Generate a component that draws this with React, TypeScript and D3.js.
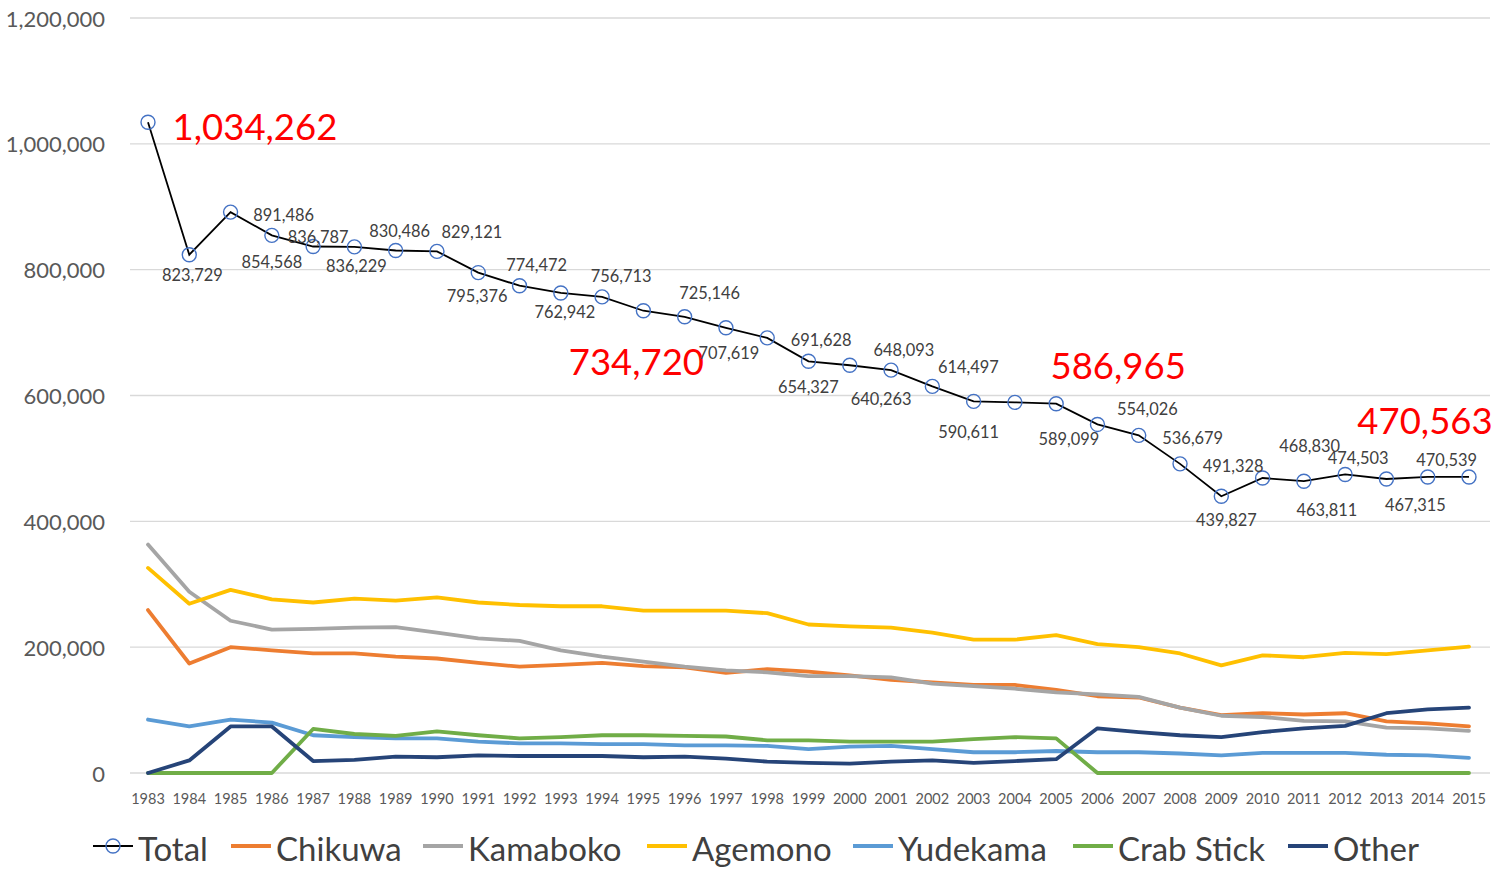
import React from "react";
import * as d3 from "d3";

const years = [1983,1984,1985,1986,1987,1988,1989,1990,1991,1992,1993,1994,1995,1996,1997,1998,1999,2000,2001,2002,2003,2004,2005,2006,2007,2008,2009,2010,2011,2012,2013,2014,2015];

const total = [1034262,823729,891486,854568,836787,836229,830486,829121,795376,774472,762942,756713,734720,725146,707619,691628,654327,648093,640263,614497,590611,589099,586965,554026,536679,491328,439827,468830,463811,474503,467315,470539,470563];

const chikuwa = [259000,174000,200000,195000,190000,190000,185000,182000,175000,169000,172000,175000,170000,168000,159000,165000,161000,155000,148000,144000,140000,140000,132000,122000,120000,104000,92000,95000,93000,95000,82000,79000,74000];
const kamaboko = [363000,288000,242000,228000,229000,231000,232000,223000,214000,210000,195000,185000,177000,169000,163000,160000,154000,154000,152000,142000,138000,134000,128000,125000,121000,104000,91000,89000,83000,82000,72000,71000,67000];
const agemono = [326000,269000,291000,276000,271000,277000,274000,279000,271000,267000,265000,265000,258000,258000,258000,254000,236000,233000,231000,223000,212000,212000,219000,205000,200000,190000,171000,187000,184000,191000,189000,195000,201000];
const yudekama = [85000,74000,85000,80000,60000,57000,55000,55000,50000,47000,47000,46000,46000,44000,44000,43000,38000,42000,43000,38000,33000,33000,35000,33000,33000,31000,28000,32000,32000,32000,29000,28000,24000];
const crabStick = [0,0,0,0,70000,62000,59000,66000,60000,55000,57000,60000,60000,59000,58000,52000,52000,50000,50000,50000,54000,57000,55000,0,0,0,0,0,0,0,0,0,0];
const other = [0,20000,74000,74000,19000,21000,26000,25000,28000,27000,27000,27000,25000,26000,23000,18000,16000,15000,18000,20000,16000,19000,22000,71000,65000,60000,57000,65000,71000,75000,95000,101000,104000];

const yTicks = [0,200000,400000,600000,800000,1000000,1200000];
const highlightYears = [1983,1995,2005,2015];

const seriesNames = ["Chikuwa","Kamaboko","Agemono","Yudekama","Crab Stick","Other"];
const seriesValues = [chikuwa,kamaboko,agemono,yudekama,crabStick,other];
const seriesColors = ["#ED7D31","#A5A5A5","#FFC000","#5B9BD5","#70AD47","#264478"];

// label offsets (dx, dy) from each Total point, layout only
const labelOffsets: [number, number][] = [
  [107,4],[3,20],[53,2],[0,26],[5,-10],[2,19],[4,-20],[35,-20],[-1,23],[17,-21],
  [4,19],[19,-21],[-7,50],[25,-24],[3,25],[54,2],[0,25],[54,-16],[-10,28],[36,-20],
  [-5,30],[54,36],[62,-39],[50,-16],[54,2],[53,2],[5,23],[47,-33],[23,28],[13,-17],
  [29,26],[19,-17],[-44,-57]
];

const legendItems = ["Total", ...seriesNames];
const legendColors = ["#000000", ...seriesColors];
const legendX = [93,231,423,647,853,1073,1288];

const FONT = "Lato, 'Open Sans', sans-serif";

export default function App() {
  const W = 1504, H = 893;
  const x = d3.scalePoint<number>().domain(years).range([148, 1469]);
  const y = d3.scaleLinear().domain([0, 1200000]).range([773, 18]);
  const fmt = d3.format(",");
  const line = d3.line<number>().x((_, i) => x(years[i]) as number).y(d => y(d));

  return (
    <svg width={W} height={H} style={{ position: "absolute", left: 0, top: 0, display: "block", background: "#fff" }} fontFamily={FONT}>
      {yTicks.map(t => (
        <g key={t}>
          <line x1={130} x2={1490} y1={y(t)} y2={y(t)} stroke="#D9D9D9" strokeWidth={1.3} />
          <text x={105} y={y(t)} textAnchor="end" dominantBaseline="central" fontSize={22} fill="#595959">{fmt(t)}</text>
        </g>
      ))}
      {years.map(yr => (
        <text key={yr} x={x(yr)} y={798} textAnchor="middle" dominantBaseline="central" fontSize={14.5} fill="#595959">{yr}</text>
      ))}
      <path d={line(total) || ""} fill="none" stroke="#000" strokeWidth={1.8} />
      {total.map((v, i) => (
        <circle key={i} cx={x(years[i])} cy={y(v)} r={7} fill="none" stroke="#4472C4" strokeWidth={1.4} />
      ))}
      {seriesValues.map((vals, si) => (
        <path key={si} d={line(vals) || ""} fill="none" stroke={seriesColors[si]} strokeWidth={3.8} strokeLinejoin="round" strokeLinecap="round" />
      ))}
      {total.map((v, i) => {
        const hi = highlightYears.includes(years[i]);
        const [dx, dy] = labelOffsets[i];
        return (
          <text key={i} x={(x(years[i]) as number) + dx} y={y(v) + dy} textAnchor="middle" dominantBaseline="central"
            fontSize={hi ? 36.5 : 16.4} fill={hi ? "#FF0000" : "#404040"}>{fmt(v)}</text>
        );
      })}
      {legendItems.map((name, i) => (
        <g key={name}>
          <line x1={legendX[i]} x2={legendX[i] + 40} y1={846} y2={846} stroke={legendColors[i]} strokeWidth={i === 0 ? 1.8 : 3.8} />
          {i === 0 && <circle cx={legendX[i] + 20} cy={846} r={7} fill="none" stroke="#4472C4" strokeWidth={1.4} />}
          <text x={legendX[i] + 45} y={848} dominantBaseline="central" fontSize={33} fill="#404040">{name}</text>
        </g>
      ))}
    </svg>
  );
}
